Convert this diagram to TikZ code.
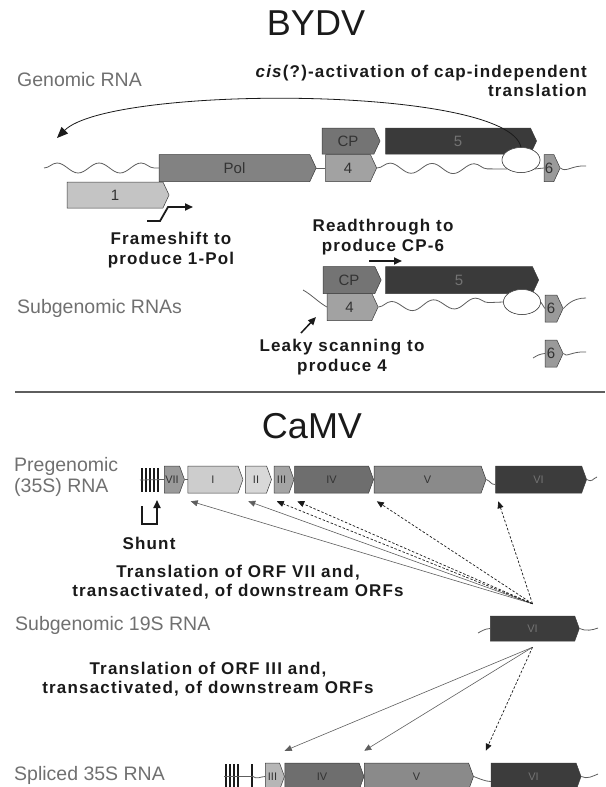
\documentclass[tikz,border=0pt]{standalone}
\usepackage{fontspec}
\setmainfont{Liberation Sans}
\setsansfont{Liberation Sans}
\newfontfamily\notefont{Liberation Sans}[LetterSpace=7]
\usetikzlibrary{arrows.meta,calc,positioning,shapes.geometric,shapes.symbols,decorations.pathmorphing}
\definecolor{ViralInk}{HTML}{1A1A1A}
\definecolor{ViralSlate}{HTML}{5E5E5E}
\definecolor{ViralLabel}{HTML}{707070}
\definecolor{ViralEdge}{HTML}{3A3A3A}
\definecolor{ShadeOne}{HTML}{C4C4C4}
\definecolor{ShadePol}{HTML}{828282}
\definecolor{ShadeCP}{HTML}{747474}
\definecolor{ShadeFour}{HTML}{A2A2A2}
\definecolor{ShadeFive}{HTML}{3A3A3A}
\definecolor{ShadeSix}{HTML}{9A9A9A}
\definecolor{ShadeVII}{HTML}{9A9A9A}
\definecolor{ShadeI}{HTML}{CDCDCD}
\definecolor{ShadeII}{HTML}{D8D8D8}
\definecolor{ShadeIII}{HTML}{A4A4A4}
\definecolor{ShadeIV}{HTML}{6E6E6E}
\definecolor{ShadeV}{HTML}{8A8A8A}
\definecolor{ShadeVI}{HTML}{3C3C3C}

\begin{document}
\begin{tikzpicture}[
    x=1pt,y=-1pt,
    title/.style={font=\fontsize{36}{40}\selectfont,text=ViralInk,inner sep=0pt},
    rnalabel/.style={font=\fontsize{19.5}{21}\selectfont,text=ViralLabel,anchor=west,align=left,inner sep=0pt},
    note/.style={font=\notefont\bfseries\fontsize{17}{19.5}\selectfont,text=ViralInk,align=center,inner sep=0pt},
    gene/.style={signal,signal to=east,signal pointer angle=130,draw=ViralEdge,line width=0.5pt,inner sep=0pt,minimum height=27pt,font=\fontsize{15}{15}\selectfont,text=black!80},
    orf/.style={gene,signal pointer angle=140,font=\fontsize{11}{11}\selectfont},
    ires/.style={ellipse,draw=ViralEdge,fill=white,line width=0.5pt,minimum width=38pt,minimum height=25pt,inner sep=0pt},
    rna/.style={ViralSlate,line width=0.8pt},
    wave/.style={rna,decorate,decoration={snake,amplitude=5pt,segment length=42pt}},
    hatch/.style={ViralInk,line width=1.4pt},
    reach/.style={-{Triangle[length=11pt,width=9pt]},line width=0.8pt,ViralInk},
    jog/.style={-{Triangle[length=8pt,width=7pt]},line width=1.8pt,ViralInk},
    flow/.style={-{Triangle[length=7pt,width=6pt]},line width=0.6pt,ViralSlate},
    hint/.style={flow,dash pattern=on 2.5pt off 1.8pt,ViralInk,line width=0.7pt}
  ]
    \useasboundingbox (0,0) rectangle (605,787);

    \node[title] (bydv) at (316,23) {BYDV};
    \node[rnalabel] (genomic) at (17,80) {Genomic RNA};
    \node[note,align=right,anchor=east] (cisnote) at (587,81) {\textit{cis}(?)-activation of cap-independent\\translation};

    \node[gene,fill=ShadePol,minimum width=157pt] (pol) at (234.5,168) {Pol};
    \node[gene,fill=ShadeOne,minimum width=102pt,minimum height=26pt] (orf1) at (115,195) {1};
    \node[gene,fill=ShadeFour,minimum width=51pt,right=9pt of pol] (orf4g) {4};
    \node[gene,fill=ShadeCP,minimum width=58pt,minimum height=26pt] (cpg) at (348,141) {CP};
    \node[gene,fill=ShadeFive,text=black!55,minimum width=151pt,minimum height=26pt,right=5pt of cpg] (orf5g) {5};
    \node[ires] (iresg) at (521,160) {};
    \node[gene,fill=ShadeSix,minimum width=16pt] (orf6g) at (549,168) {6};

    \coordinate (rnaG0) at (44,168);
    \coordinate (rnaG1) at (586,166);
    \draw[wave] (rnaG0) -- (pol.west);
    \draw[rna] (pol.east) -- (orf4g.west);
    \draw[wave] (orf4g.east) -- (iresg.south west);
    \draw[rna] (iresg.south east) -- (orf6g.west);
    \draw[rna] (orf6g.east) .. controls (566,173) and (572,165) .. (rnaG1);
    \node[ires] at (iresg) {};

    \coordinate (arcEnd) at (57,138);
    \draw[reach] (iresg.north) .. controls (508,85) and (110,85) .. (arcEnd);

    \coordinate (fsA) at (147,221);
    \coordinate (fsB) at (193,207);
    \draw[jog] (fsA) -- ++(13,0) -- ++(8,-14) -- (fsB);
    \node[note] (fsnote) at (171,250) {Frameshift to\\produce 1-Pol};

    \node[note] (rtnote) at (383,237) {Readthrough to\\produce CP-6};
    \coordinate (rtA) at (369,261);
    \coordinate (rtB) at (402,261);
    \draw[jog] (rtA) -- (rtB);

    \node[rnalabel] (subg) at (17,308) {Subgenomic RNAs};
    \node[gene,fill=ShadeCP,minimum width=58pt] (cps) at (349,280) {CP};
    \node[gene,fill=ShadeFive,text=black!55,minimum width=153pt,right=4pt of cps] (orf5s) {5};
    \node[gene,fill=ShadeFour,minimum width=51pt] (orf4s) at (349.5,307) {4};
    \node[ires,minimum width=37pt] (iress) at (522,302) {};
    \node[gene,fill=ShadeSix,minimum width=18pt] (orf6s) at (551,308.5) {6};

    \coordinate (rnaS0) at (303,290);
    \coordinate (rnaS1) at (586,298);
    \draw[rna] (rnaS0) .. controls (312,295) and (318,302) .. (orf4s.west);
    \draw[wave] (orf4s.east) -- (iress.west);
    \draw[rna] (iress.east) -- (orf6s.west);
    \draw[rna] (orf6s.east) .. controls (566,306) and (572,298) .. (rnaS1);
    \node[ires,minimum width=37pt] at (iress) {};

    \coordinate (lkA) at (301,333);
    \coordinate (lkB) at (316,317);
    \draw[jog,line width=1.5pt] (lkA) -- (lkB);
    \node[note] (lknote) at (342,357) {Leaky scanning to\\produce 4};

    \node[gene,fill=ShadeSix,minimum width=18pt] (orf6t) at (551,353.5) {6};
    \coordinate (rnaT0) at (533,358);
    \coordinate (rnaT1) at (586,352);
    \draw[rna] (rnaT0) .. controls (538,355) and (540,354) .. (orf6t.west);
    \draw[rna] (orf6t.east) .. controls (566,358) and (572,351) .. (rnaT1);

    \coordinate (sepL) at (15,392);
    \coordinate (sepR) at (605,392);
    \draw[ViralSlate,line width=1.2pt] (sepL) -- (sepR);

    \node[title] (camv) at (312,426) {CaMV};
    \node[rnalabel] (pregen) at (14,477) {Pregenomic\\(35S) RNA};

    \foreach \hx in {142,146,150,154,158}
      \draw[hatch] (\hx,468) -- (\hx,492);
    \node[orf,fill=ShadeVII,minimum width=20pt] (vii) at (172,479.5) {VII};
    \draw[rna] (140,480) -- (vii.west);
    \node[orf,fill=ShadeI,minimum width=55pt,right=3pt of vii] (orfI) {I};
    \node[orf,fill=ShadeII,minimum width=26pt,right=2pt of orfI] (orfII) {II};
    \node[orf,fill=ShadeIII,minimum width=20pt,right=2pt of orfII] (orfIII) {III};
    \node[orf,fill=ShadeIV,minimum width=79pt,right=0pt of orfIII] (orfIV) {IV};
    \node[orf,fill=ShadeV,minimum width=112pt,right=0pt of orfIV] (orfV) {V};
    \node[orf,fill=ShadeVI,text=black!55,minimum width=91pt,right=9pt of orfV] (orfVI) {VI};
    \coordinate (tailP) at (597,477);
    \draw[rna] (vii.east) -- (orfI.west);
    \draw[rna] (orfV.east) .. controls +(5,2) and +(-5,0) .. ([yshift=-5pt]orfVI.west);
    \draw[rna] (orfVI.east) .. controls +(6,3) and +(-5,2) .. (tailP);

    \coordinate (shA) at (142,506);
    \coordinate (shB) at (157,500);
    \draw[jog] (shA) -- ++(0,18) -- ++(15,0) -- (shB);
    \node[note] (shunt) at (149,543) {Shunt};

    \node[note] (viinote) at (238,582) {Translation of ORF VII and,\\transactivated, of downstream ORFs};

    \node[rnalabel] (sub19) at (15,625) {Subgenomic 19S RNA};
    \node[orf,fill=ShadeVI,text=black!55,minimum width=89pt,minimum height=25pt] (vi19) at (532.5,628.5) {VI};
    \coordinate (t19a) at (478,633);
    \coordinate (t19b) at (598,628);
    \draw[rna] (t19a) .. controls (482,631) and (484,629) .. (vi19.west);
    \draw[rna] (vi19.east) .. controls +(6,3) and +(-5,2) .. (t19b);

    \coordinate (hubA) at ([yshift=12pt]vi19.north);
    \coordinate (hubB) at ([yshift=-6pt]vi19.south);
    \foreach \orf/\kind in {orfI/flow,orfII/flow,orfIII/hint,orfIV/hint,orfV/hint,orfVI/hint}
      \draw[\kind] (hubA) -- ([shift={(3pt,-8pt)}]\orf.south west);

    \node[note] (iiinote) at (208,679) {Translation of ORF III and,\\transactivated, of downstream ORFs};

    \node[rnalabel] (spliced) at (14,775) {Spliced 35S RNA};
    \foreach \hx in {226,230,234,238,252}
      \draw[hatch] (\hx,764) -- (\hx,788);
    \draw[rna] (224,776) -- (252,776);
    \node[orf,fill=ShadeIII!80,minimum width=19pt] (iii2) at (272.5,776.5) {III};
    \node[orf,fill=ShadeIV,minimum width=79pt,right=0pt of iii2] (iv2) {IV};
    \node[orf,fill=ShadeV,minimum width=109pt,right=0pt of iv2] (v2) {V};
    \node[orf,fill=ShadeVI,text=black!55,minimum width=90pt,right=17pt of v2] (vi2) {VI};
    \coordinate (spA) at (252,776);
    \coordinate (tailQ) at (598,774);
    \draw[rna] (spA) .. controls +(5,4) and +(-5,0) .. (iii2.west);
    \draw[rna] (v2.east) .. controls +(5,2) and +(-5,0) .. ([yshift=-5pt]vi2.west);
    \draw[rna] (vi2.east) .. controls +(6,3) and +(-5,2) .. (tailQ);

    \draw[flow] (hubB) -- ([yshift=12pt]iv2.north west);
    \draw[flow] (hubB) -- ([yshift=12pt]v2.north west);
    \draw[hint] (hubB) -- ([shift={(-5pt,12pt)}]vi2.north west);
  \end{tikzpicture}
\end{document}
